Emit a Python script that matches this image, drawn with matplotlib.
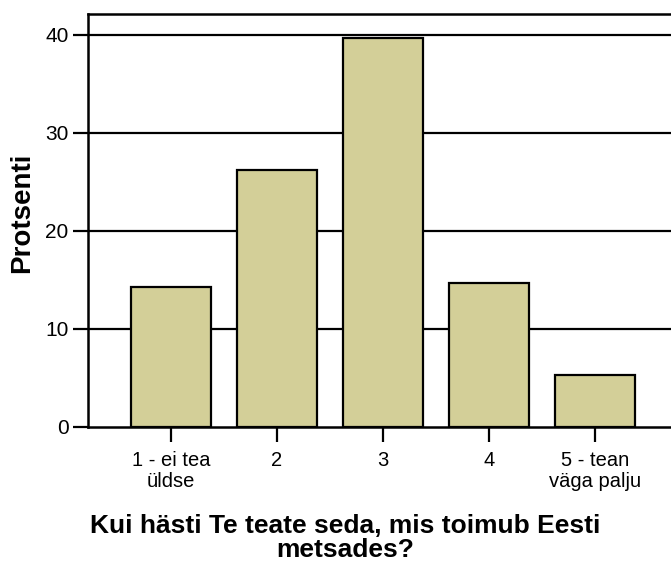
import matplotlib.pyplot as plt

plt.rcParams['font.family'] = ['Liberation Sans', 'DejaVu Sans']

categories = ['1 - ei tea\nüldse', '2', '3', '4', '5 - tean\nväga palju']
percents = [14.3, 26.2, 39.7, 14.7, 5.3]
y_ticks = [0, 10, 20, 30, 40]

fig = plt.figure(figsize=(6.71, 5.65), dpi=100)
ax = fig.add_axes([88 / 671, 138 / 565, 583 / 671, 413 / 565])

x = range(len(categories))
ax.bar(x, percents, width=0.755, color='#d3cf98', edgecolor='black',
       linewidth=1.6, zorder=3)

# horizontal reference lines behind the bars
for t in y_ticks[1:]:
    ax.axhline(t, color='black', linewidth=1.6, zorder=1)

ax.set_xlim(-0.783, 4.717)
ax.set_ylim(0, 42.14)
ax.set_yticks(y_ticks)
ax.set_xticks(list(x))
ax.set_xticklabels(categories, fontsize=14.5, linespacing=1.15)
ax.tick_params(axis='y', labelsize=15, length=11, width=1.6, pad=3)
ax.tick_params(axis='x', length=11, width=1.6, pad=6)

for s in ['left', 'top', 'bottom']:
    ax.spines[s].set_linewidth(1.8)
ax.spines['right'].set_visible(False)

fig.text(22 / 671, 1 - 213 / 565, 'Protsenti', rotation=90, ha='center',
         va='center', fontsize=20, fontweight='bold')
fig.text(0.515, 1 - 538 / 565, 'Kui hästi Te teate seda, mis toimub Eesti\nmetsades?',
         ha='center', va='center', fontsize=19, fontweight='bold',
         linespacing=1.0)

fig.savefig('out.png', dpi=100)
